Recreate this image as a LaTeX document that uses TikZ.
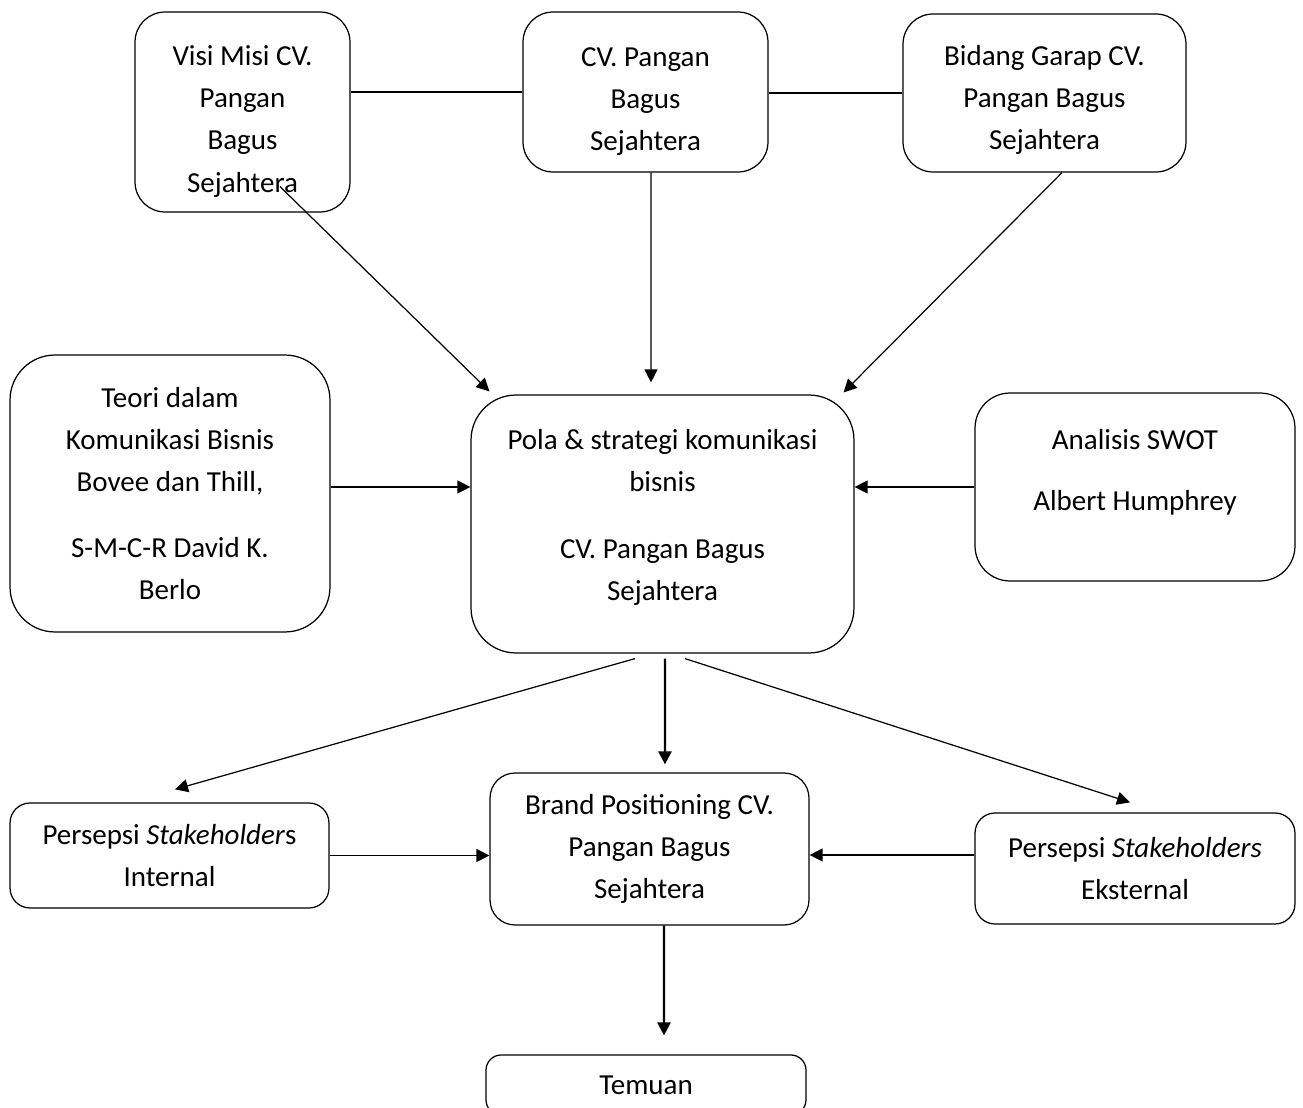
\documentclass[tikz,border=0pt]{standalone}
\usepackage{fontspec}
\setmainfont{Carlito}
\usetikzlibrary{positioning,arrows.meta}

\begin{document}
\begin{tikzpicture}[%
    x=0.02cm,y=-0.02cm,->,>={Triangle[length=0.26cm,width=0.26cm]},
    line width=0.7pt,font=\fontsize{16.5}{24}\selectfont,
    box/.style={%
      rectangle,draw,align=center,inner sep=0pt},
    heavy/.style={line width=1.4pt}
  ]
    \useasboundingbox (0,0) rectangle (1303,1108);
    % top row
    \node[box,minimum width=4.3cm,minimum height=4cm,rounded corners=0.6cm] (visi) at (242.5,112) {\rule{0pt}{0.77cm}Visi Misi CV.\\Pangan\\Bagus\\Sejahtera};
    \node[box,minimum width=4.9cm,minimum height=3.2cm,rounded corners=0.6cm] (cvpb) at (645.5,92) {\rule{0pt}{0.76cm}CV. Pangan\\Bagus\\Sejahtera};
    \node[box,minimum width=5.66cm,minimum height=3.16cm,rounded corners=0.6cm] (bidang) at (1044.5,93) {\rule{0pt}{0.69cm}Bidang Garap CV.\\Pangan Bagus\\Sejahtera};
    % middle row
    \node[box,minimum width=6.4cm,minimum height=5.54cm,rounded corners=0.9cm] (teori) at (170,493.5) {Teori dalam\\Komunikasi Bisnis\\Bovee dan Thill,\\[0.48cm]S-M-C-R David K.\\Berlo};
    \node[box,minimum width=7.66cm,minimum height=5.16cm,rounded corners=0.9cm] (pola) at (662.5,524) {Pola \& strategi komunikasi\\bisnis\\[0.5cm]CV. Pangan Bagus\\Sejahtera\rule[-0.36cm]{0pt}{0pt}};
    \node[box,minimum width=6.4cm,minimum height=3.76cm,rounded corners=0.7cm] (swot) at (1135,487) {Analisis SWOT\\[0.38cm]Albert Humphrey\\[-0.16cm]~};
    % lower row
    \node[box,minimum width=6.38cm,minimum height=2.1cm,rounded corners=0.4cm] (intern) at (169.5,855.5) {Persepsi \textit{Stakeholder}s\\Internal};
    \node[box,minimum width=6.38cm,minimum height=3.04cm,rounded corners=0.5cm] (brand) at (649.5,849) {Brand Positioning CV.\\Pangan Bagus\\Sejahtera};
    \node[box,minimum width=6.4cm,minimum height=2.22cm,rounded corners=0.4cm] (ekstern) at (1135,868.5) {Persepsi \textit{Stakeholders}\\Eksternal};
    \node[box,minimum width=6.4cm,minimum height=1.2cm,rounded corners=0.3cm] (temuan) at (646,1085) {Temuan};

    \path (visi.east |- cvpb.west)   edge [-]           (cvpb.west)
          (cvpb.east |- bidang.west) edge [-,heavy]     (bidang.west)
          ([xshift=0.75cm,yshift=0.52cm]visi.south) edge ([xshift=0.38cm,yshift=0.06cm]pola.north west)
          ([xshift=0.11cm]cvpb.south)   edge ([xshift=-0.23cm,yshift=0.24cm]pola.north)
          ([xshift=0.35cm]bidang.south) edge ([xshift=-0.22cm,yshift=0.04cm]pola.north east)
          ([yshift=0.13cm]teori.east)   edge ([yshift=0.13cm]teori.east -| pola.west)
          (swot.west)                   edge (swot.west -| pola.east)
          ([xshift=-0.55cm,yshift=-0.1cm]pola.south) edge ([xshift=0.11cm,yshift=0.26cm]intern.north)
          ([xshift=0.05cm,yshift=-0.1cm]pola.south)  edge [heavy] ([xshift=0.31cm,yshift=0.16cm]brand.north)
          ([xshift=0.45cm,yshift=-0.1cm]pola.south)  edge ([xshift=-0.1cm,yshift=0.2cm]ekstern.north)
          (intern.east)                 edge (intern.east -| brand.west)
          ([yshift=0.27cm]ekstern.west) edge ([yshift=0.27cm]ekstern.west -| brand.east)
          ([xshift=0.29cm]brand.south)  edge [heavy] ([xshift=0.36cm,yshift=0.38cm]temuan.north)
          ;
\end{tikzpicture}
\end{document}
